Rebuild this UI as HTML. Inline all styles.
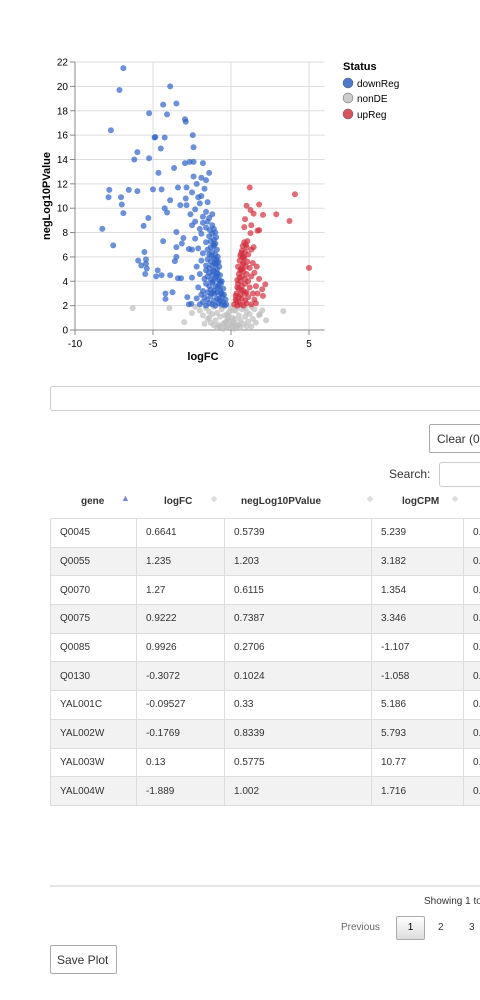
<!DOCTYPE html>
<html><head><meta charset="utf-8"><style>
body{margin:0;width:480px;height:1000px;overflow:hidden;background:#fff;font-family:"Liberation Sans",Arial,sans-serif;position:relative}
.abs{position:absolute}
table{border-collapse:collapse;font-size:10px;color:#333}
td{border:1px solid #ddd;padding:0 0 0 9px;height:27.7px}
.btn{border:1px solid #aaa;border-radius:2px;background:#fff;font-size:12px;color:#333;box-sizing:border-box}
</style></head><body>
<svg class="abs" style="left:0;top:0" width="480" height="370" font-family="Liberation Sans, Arial, sans-serif">
<g id="grid"></g><g id="axes"></g><g id="pts"></g>
<text x="203" y="360" font-size="11" font-weight="bold" text-anchor="middle">logFC</text>
<text transform="translate(50,196) rotate(-90)" font-size="11" font-weight="bold" text-anchor="middle">negLog10PValue</text>
<g font-size="10">
<text x="343" y="70" font-weight="bold" font-size="11">Status</text>
<g><circle cx="348" cy="83" r="5" fill="#4c78d0" stroke="#555" stroke-width=".5"/><text x="357" y="87">downReg</text></g>
<g><circle cx="348" cy="98" r="5" fill="#ccc" stroke="#555" stroke-width=".5"/><text x="357" y="102">nonDE</text></g>
<g><circle cx="348" cy="114" r="5" fill="#d9535f" stroke="#555" stroke-width=".5"/><text x="357" y="118">upReg</text></g>
</g>
</svg>
<div class="abs" style="left:50px;top:386px;width:440px;height:23px;border:1px solid #ccc;border-radius:3px"></div>
<div class="abs btn" style="left:429px;top:424px;width:70px;height:29px;padding:7px 0 0 7px">Clear (0)</div>
<div class="abs" style="left:389px;top:467px;font-size:12px;color:#333">Search:</div>
<div class="abs" style="left:439px;top:462px;width:60px;height:23px;border:1px solid #ccc;border-radius:3px"></div>
<div class="abs" style="left:50px;top:494px;width:430px;height:24px;font-size:10px;font-weight:bold;color:#333;border-bottom:1px solid #bbb">
<span class="abs" style="left:31px;top:2px">gene</span><span class="abs" style="left:71px;top:-1px;color:#7a86e0;font-size:9px">▲</span>
<span class="abs" style="left:114px;top:2px">logFC</span><span class="abs" style="left:161px;top:0;color:#ddd;font-size:8px">◆</span>
<span class="abs" style="left:191px;top:2px">negLog10PValue</span><span class="abs" style="left:317px;top:0;color:#ddd;font-size:8px">◆</span>
<span class="abs" style="left:352px;top:2px">logCPM</span><span class="abs" style="left:402px;top:0;color:#ddd;font-size:8px">◆</span>
</div>
<table class="abs" style="left:50px;top:518px;width:440px">
<colgroup><col style="width:86px"><col style="width:88px"><col style="width:147px"><col style="width:92px"><col></colgroup>
<tbody id="tb"></tbody></table>
<div class="abs" style="left:50px;top:885px;width:430px;height:2px;background:#e5e5e5"></div>
<div class="abs" style="left:424px;top:896px;font-size:10px;color:#333;white-space:nowrap">Showing 1 to 10</div>
<div class="abs" style="left:341px;top:922px;font-size:10px;color:#666">Previous</div>
<div class="abs" style="left:396px;top:916px;width:29px;height:24px;border:1px solid #aaa;border-radius:2px;background:linear-gradient(#fff,#ddd);box-sizing:border-box;font-size:10px;text-align:center;line-height:22px">1</div>
<div class="abs" style="left:438px;top:922px;font-size:10px;color:#333">2</div>
<div class="abs" style="left:469px;top:922px;font-size:10px;color:#333">3</div>
<div class="abs btn" style="left:50px;top:945px;width:67px;height:29px;padding:7px 0 0 6px">Save Plot</div>
<script>
const rows=[["Q0045","0.6641","0.5739","5.239"],["Q0055","1.235","1.203","3.182"],["Q0070","1.27","0.6115","1.354"],["Q0075","0.9222","0.7387","3.346"],["Q0085","0.9926","0.2706","-1.107"],["Q0130","-0.3072","0.1024","-1.058"],["YAL001C","-0.09527","0.33","5.186"],["YAL002W","-0.1769","0.8339","5.793"],["YAL003W","0.13","0.5775","10.77"],["YAL004W","-1.889","1.002","1.716"]];
const tb=document.getElementById('tb');
rows.forEach((r,i)=>{const tr=document.createElement('tr');


if(i%2)tr.style.background='#f2f2f2';
[...r,'0.'].forEach(c=>{const td=document.createElement('td');td.textContent=c;tr.appendChild(td);});tb.appendChild(tr);});

const xTicks=[-10,-5,0,5];
const yTicks=[0,2,4,6,8,10,12,14,16,18,20,22];
const downX=[-6.9,-7.15,-3.9,-4.35,-3.5,-5.25,-4.1,-2.95,-2.9,-7.7,-4.9,-4.85,-4.25,-2.45,-6.0,-4.5,-2.4,-6.2,-5.25,-3.65,-4.65,-2.95,-2.65,-2.4,-1.8,-7.8,-7.85,-6.55,-6.0,-5.0,-4.45,-3.4,-2.85,-7.05,-7.0,-6.9,-3.9,-3.25,-2.85,-2.9,-4.25,-4.1,-5.3,-8.25,-5.6,-7.55,-3.5,-4.35,-3.05,-3.15,-3.5,-5.55,-5.95,-5.75,-5.45,-5.45,-5.4,-5.5,-4.7,-4.8,-4.45,-3.9,-3.5,-3.6,-3.4,-3.2,-4.2,-4.2,-3.75,-2.7,-2.5,-2.5,-2.8,-2.7,-2.55,
-2.0,-1.8,-1.6,-1.5,-1.4,-1.3,-1.2,-1.1,-1.0,-0.9,-0.8,-0.7,-0.6,-0.5,-0.4,-0.35,-0.3,-1.7,-2.2,-1.9,
-2.1,-1.8,-1.6,-1.5,-1.4,-1.3,-1.2,-1.1,-1.0,-0.9,-0.8,-0.7,-0.6,-0.5,-0.45,-1.05,
-2.0,-1.7,-1.6,-1.5,-1.4,-1.3,-1.2,-1.1,-1.0,-0.9,-0.8,-0.7,-0.6,-0.65,-1.15,
-2.2,-1.9,-1.6,-1.5,-1.4,-1.3,-1.2,-1.1,-1.0,-0.9,-0.8,-0.75,
-2.1,-1.8,-1.5,-1.4,-1.3,-1.2,-1.1,-1.0,-0.9,-0.85,
-2.3,-1.9,-1.6,-1.4,-1.3,-1.2,-1.1,-1.0,-0.95,
-2.5,-2.3,-2.0,-1.8,-1.6,-1.5,-1.35,-1.2,-1.1,-1.0,
-2.6,-2.3,-2.0,-1.8,-1.6,-1.4,-1.2,-1.9,-2.5,-2.2,-1.9,-1.6,-1.7,-2.1,-1.5,-1.4,-2.4,
-1.25,-1.15,-0.95,-0.85,-0.75,-0.65,-0.55,-1.05,-0.95,-0.85,-0.7,-1.25,-1.1,-0.9];
const downY=[21.5,19.7,20.0,18.5,18.6,17.8,17.7,17.3,17.1,16.4,15.8,15.85,15.8,16.0,14.6,14.9,15.0,14.0,14.1,13.3,12.9,13.7,13.8,13.8,13.7,11.5,10.9,11.5,11.4,11.55,11.55,11.7,11.7,10.9,10.3,9.6,10.65,10.25,10.25,10.8,10.0,9.65,9.2,8.3,8.55,6.95,8.05,7.3,7.55,7.1,6.8,6.4,5.7,5.3,5.8,5.45,5.05,4.6,4.9,4.4,4.5,4.5,6.0,5.65,4.25,4.25,3.0,2.55,3.1,6.65,6.6,4.3,2.7,2.1,2.15,
2.1,2.3,2.0,2.5,2.2,2.8,2.1,2.4,2.0,2.6,2.2,2.4,2.1,2.3,2.0,2.5,2.1,2.7,2.6,2.9,
3.5,3.2,3.8,3.1,3.6,3.3,3.9,3.2,3.6,3.1,3.7,3.3,3.0,3.4,2.9,3.0,
4.6,4.2,4.9,4.4,4.7,4.1,4.5,4.9,4.3,4.7,4.1,4.5,4.0,3.8,4.0,
5.2,5.7,5.3,5.8,5.1,5.6,5.3,5.9,5.4,5.0,5.6,5.2,
6.7,6.3,6.6,6.2,6.8,6.4,6.9,6.2,6.6,6.0,
7.5,7.9,7.2,7.7,7.3,7.9,7.4,7.1,7.6,
8.6,8.9,8.3,8.8,8.4,8.9,8.2,8.6,8.3,8.0,
9.5,9.9,10.4,9.3,9.7,9.2,9.5,11.0,11.3,12.0,12.5,12.3,11.6,10.9,10.5,12.9,12.6,
3.0,4.8,4.4,3.5,2.6,3.0,2.8,5.5,5.8,4.6,4.0,6.1,7.0,5.5];
const upX=[1.2,4.1,1.0,1.8,1.25,1.45,2.05,2.9,3.75,0.9,1.3,0.85,1.25,1.7,1.8,5.0,1.65,2.2,2.0,2.05,1.45,
0.2,0.3,0.4,0.5,0.6,0.7,0.8,0.9,1.0,1.1,1.3,1.5,0.35,0.5,0.6,0.7,0.8,0.9,1.0,1.2,1.4,1.6,0.4,0.5,0.6,0.7,0.8,0.9,1.0,1.1,1.3,1.5,0.45,0.55,0.65,0.75,0.85,0.95,1.05,1.2,1.4,0.6,0.7,0.8,0.9,1.0,1.1,1.3,0.75,0.85,0.95,1.05,0.3,1.7,1.8,1.6,
0.45,0.55,0.65,0.7,0.5,0.6,0.8,0.4,0.35,0.9,0.75,0.65];
const upY=[11.7,11.15,10.2,10.3,9.85,9.55,9.45,9.5,8.95,9.1,8.6,8.45,7.95,8.15,8.2,5.1,5.2,3.75,3.35,2.8,6.8,
2.1,2.5,2.0,2.3,2.1,2.6,2.0,2.4,2.2,2.7,2.1,2.5,3.0,3.4,2.9,3.6,3.2,3.8,3.1,3.5,3.0,3.6,4.1,4.6,4.0,4.4,4.8,4.2,4.6,4.0,4.4,4.7,5.2,5.7,5.0,5.4,5.9,5.2,5.6,5.1,5.5,6.1,6.5,6.0,6.4,6.8,6.2,6.6,6.9,7.2,7.0,7.3,2.8,3.0,4.2,2.2,
3.8,4.3,3.3,5.0,2.7,4.9,5.5,3.5,2.4,3.0,6.0,6.3];
const nonX=[-6.3,-3.95,-3.0,3.35,2.25,1.85,-2.0,-1.8,-1.6,-1.5,-1.4,-1.3,-1.2,-1.1,-1.0,-0.9,-0.8,-0.7,-0.6,-0.5,-0.4,-0.3,-0.2,-0.1,0.0,0.1,0.2,0.3,0.4,0.5,0.6,0.7,0.8,0.9,1.0,1.1,1.2,1.4,1.5,1.6,1.8,-2.3,-1.7,-0.9,-0.5,0.2,0.6,1.3,-1.1,-0.3,0.0,0.4,-2.5,2.0,-0.6,0.9,1.3,-0.2,0.1,-0.4,0.3,-0.7,0.5,-1.4,1.0,-0.1,0.25,-0.25,0.15,-0.15];
const nonY=[1.8,1.8,0.65,1.55,0.8,1.3,1.6,1.2,1.8,0.9,1.5,0.6,1.3,1.9,0.8,1.4,0.4,1.1,1.7,0.5,1.2,0.2,0.9,1.5,0.3,1.0,0.6,1.6,0.4,1.2,0.8,1.7,0.5,1.1,1.5,0.7,1.3,0.9,1.7,0.6,1.2,1.9,0.5,0.2,0.1,0.1,0.2,0.3,0.4,0.7,1.8,1.9,1.4,1.6,1.95,1.9,1.9,0.3,0.5,0.6,0.2,0.3,0.4,1.0,0.3,0.7,0.9,1.3,1.6,1.1];

const X=v=>75+(v+10)*15.6, Y=v=>330-v*12.18;
const NS='http://www.w3.org/2000/svg';
function mk(p,t,a){const e=document.createElementNS(NS,t);for(const k in a)e.setAttribute(k,a[k]);p.appendChild(e);return e;}
const grid=document.getElementById('grid'),axes=document.getElementById('axes'),pts=document.getElementById('pts');
xTicks.forEach(t=>{mk(grid,'line',{x1:X(t),x2:X(t),y1:Y(22),y2:Y(0),stroke:'#ddd'});
mk(axes,'line',{x1:X(t),x2:X(t),y1:330,y2:335,stroke:'#888'});
const tx=mk(axes,'text',{x:X(t),y:347,'font-size':10,'text-anchor':'middle'});tx.textContent=t;

});
yTicks.forEach(t=>{mk(grid,'line',{x1:75,x2:X(6),y1:Y(t),y2:Y(t),stroke:'#ddd'});
mk(axes,'line',{x1:70,x2:75,y1:Y(t),y2:Y(t),stroke:'#888'});
const tx=mk(axes,'text',{x:68,y:Y(t)+3.5,'font-size':10,'text-anchor':'end'});tx.textContent=t;

});
mk(axes,'line',{x1:75,x2:X(6),y1:330,y2:330,stroke:'#888'});
mk(axes,'line',{x1:75,x2:75,y1:Y(22),y2:330,stroke:'#888'});
function series(xs,ys,col,name){xs.forEach((v,i)=>{const c=mk(pts,'circle',{cx:X(v),cy:Y(ys[i]),r:3,fill:col,'fill-opacity':0.7});

});}
series(nonX,nonY,'#bdbdbd','nonde-point');
series(downX,downY,'#2f62c8','downreg-point');
series(upX,upY,'#d22d3d','upreg-point');
</script>
</body></html>
